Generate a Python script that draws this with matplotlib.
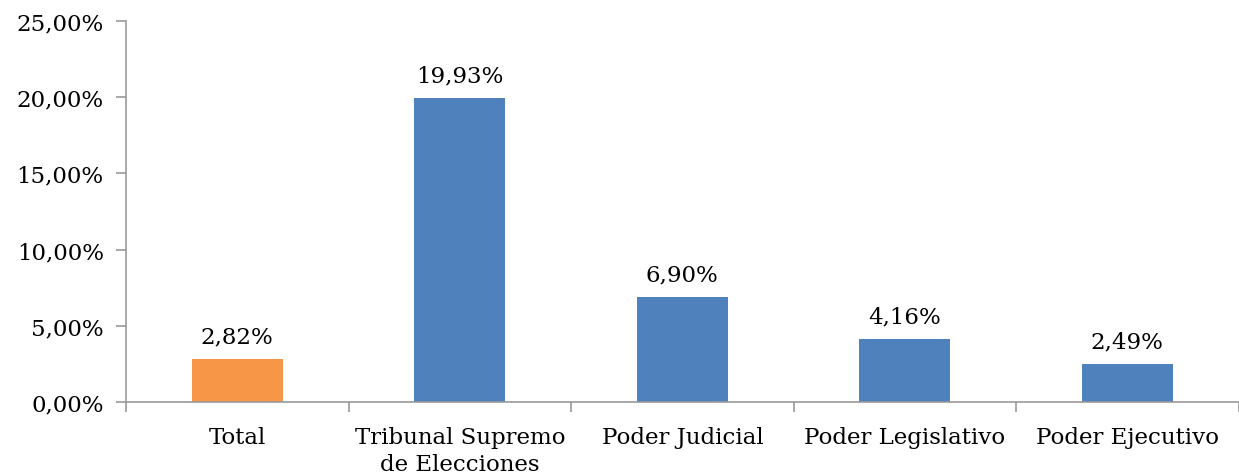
import numpy as np
from matplotlib import pyplot as plt

categories = ["Total", "Tribunal Supremo\nde Elecciones", "Poder Judicial",
              "Poder Legislativo", "Poder Ejecutivo"]
values = [2.82, 19.93, 6.90, 4.16, 2.49]
colors = ["#F79646", "#4F81BD", "#4F81BD", "#4F81BD", "#4F81BD"]
y_ticks = [0, 5, 10, 15, 20, 25]

plt.rcParams['font.family'] = ['DejaVu Serif']
fs = 16.5

fig = plt.figure(figsize=(12.39, 4.77), dpi=100)
ax = fig.add_axes([0.1017, 0.155, 0.898, 0.799])

x = np.arange(len(values))
bars = ax.bar(x, values, width=0.41, color=colors)

for xi, v in zip(x, values):
    ax.text(xi, v + 0.75, f"{v:.2f}%".replace(".", ","), ha='center', va='bottom',
            fontsize=fs, color='black')

ax.set_xlim(-0.5, len(values) - 0.5)
ax.set_ylim(0, 25)
ax.set_yticks(y_ticks)
ax.set_yticklabels([f"{t:.2f}%".replace(".", ",") for t in y_ticks], fontsize=fs)

ax.set_xticks(x)
ax.set_xticklabels(categories, fontsize=fs, linespacing=1.3)
ax.tick_params(axis='x', length=0, pad=17)
ax.set_xticks(np.arange(len(values) + 1) - 0.5, minor=True)
ax.tick_params(axis='x', which='minor', length=7, color='#999999', width=1.2)
ax.tick_params(axis='y', length=7, color='#999999', width=1.2, pad=9)

for s in ['top', 'right']:
    ax.spines[s].set_visible(False)
for s in ['left', 'bottom']:
    ax.spines[s].set_color('#999999')
    ax.spines[s].set_linewidth(1.2)

fig.savefig("out.png", dpi=100)
